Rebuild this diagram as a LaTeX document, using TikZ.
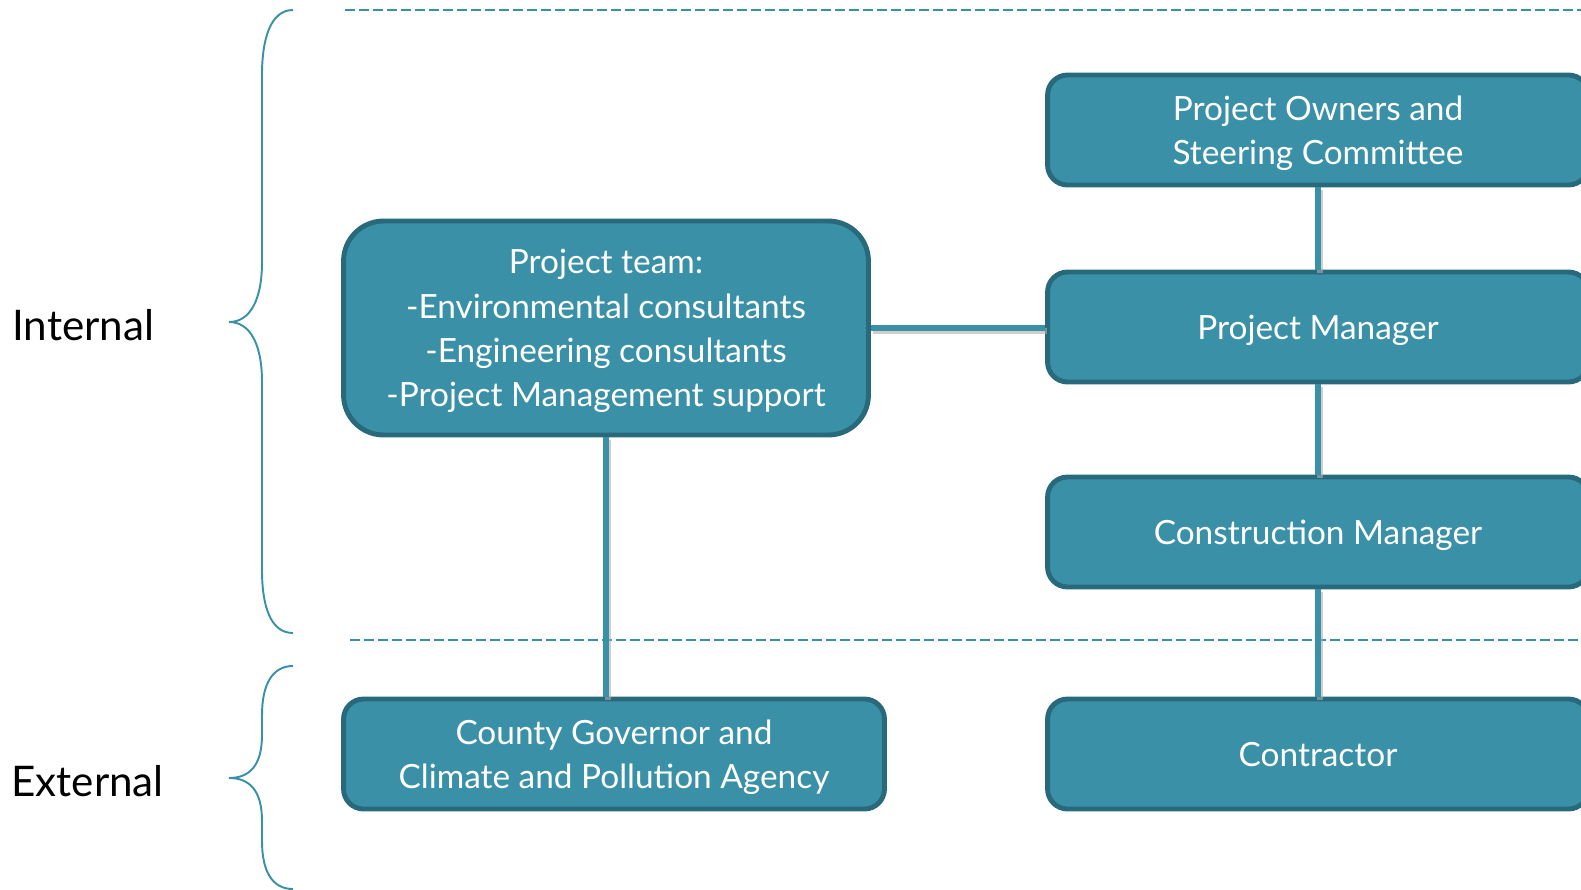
\documentclass[tikz,border=0pt]{standalone}
\usepackage{fontspec}
\setmainfont{Lato}
\usetikzlibrary{shapes}
\definecolor{boxFill}{RGB}{58,144,167}
\definecolor{boxLine}{RGB}{40,106,124}
\definecolor{shadowGray}{RGB}{175,175,175}

\begin{document}
\begin{tikzpicture}
[x=0.02cm,y=-0.02cm,
  nodeDecorate/.style={shape=rectangle,rounded corners=0.4cm,draw=boxLine,line width=2.8pt,
    fill=boxFill,text=white,align=center,inner sep=0pt,text depth=0pt,
    minimum width=10.82cm,minimum height=2.2cm,font=\fontsize{19}{25.2}\selectfont},%
  lineDecorate/.style={-,draw=boxFill,line width=3.4pt},%
  shadowDecorate/.style={-,draw=shadowGray,line width=3.4pt,opacity=0.6},%
  dashDecorate/.style={draw=boxFill,line width=1.1pt,dash pattern=on 0.2cm off 0.08cm},%
  braceDecorate/.style={draw=boxFill,line width=1.1pt},%
  labelDecorate/.style={anchor=west,inner sep=0pt,font=\fontsize{24}{28}\selectfont}]
\useasboundingbox (0,0) rectangle (1581,889);
%% dashed separators
\draw[dashDecorate] (345,10) -- (1581,10);
\draw[dashDecorate] (350,640) -- (1581,640);
%% braces and labels
\draw[braceDecorate] (293,10) .. controls (270,10) and (262,40) .. (262,75) -- (262,262)
  .. controls (262,300) and (250,322) .. (229,322)
  .. controls (250,322) and (262,344) .. (262,382) -- (262,570)
  .. controls (262,605) and (270,633) .. (293,633);
\draw[braceDecorate] (293,666) .. controls (272,666) and (262,685) .. (262,715) -- (262,735)
  .. controls (262,765) and (250,778) .. (229,778)
  .. controls (250,778) and (262,791) .. (262,821) -- (262,841)
  .. controls (262,871) and (272,889) .. (293,889);
\node (internal) at (12,325) [labelDecorate] {Internal};
\node (external) at (11,781) [labelDecorate] {External};
%% nodes or vertices
\foreach \nodename/\y/\txt in {
  owners/130/{Project Owners and\\Steering Committee},
  pm/327/Project Manager, cm/532/Construction Manager,
  contractor/754/Contractor}
{
  \node (\nodename) at (1318,\y) [nodeDecorate] {\txt};
}
\node (team) at (606,328) [nodeDecorate,rounded corners=0.8cm,minimum width=10.5cm,
  minimum height=4.28cm] {Project team:\\-Environmental consultants\\-Engineering consultants\\-Project Management support};
\node (county) at (614,754) [nodeDecorate] {County Governor and\\Climate and Pollution Agency};
\coordinate (pmSide) at (team.east -| pm.west);
\coordinate (teamFoot) at (team.south |- county.north);
%% edges or lines
\foreach \startnode/\endnode in {
  owners.south/pm.north, pm.south/cm.north, cm.south/contractor.north,
  team.east/pmSide, team.south/teamFoot}
{
  \draw[shadowDecorate] ([shift={(2,3)}]\startnode) -- ([shift={(2,3)}]\endnode);
  \draw[lineDecorate] (\startnode) -- (\endnode);
}
\end{tikzpicture}
\end{document}
